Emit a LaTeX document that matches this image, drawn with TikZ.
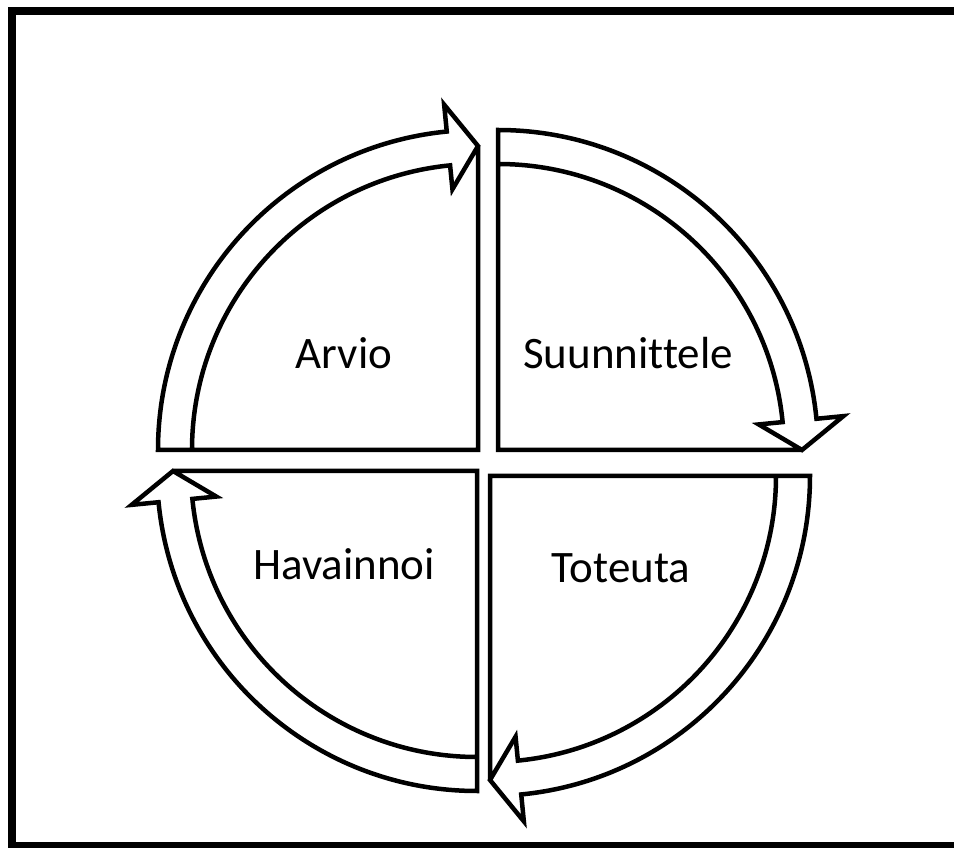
\documentclass[tikz,border=0pt]{standalone}
\usepackage{fontspec}
\setmainfont{Carlito}[Ligatures=NoCommon]
\begin{document}
\begin{tikzpicture}[x=1pt,y=1pt,
  quad/.style={line width=4.5pt},
  lbl/.style={anchor=base,font=\fontsize{45}{54}\selectfont}]
\useasboundingbox (0,0) rectangle (954,847);
\clip (0,0) rectangle (954,847);
\draw[line width=8pt] (960,836) -- (12,836) -- (12,1) -- (960,1);

% Arvio: arrow up to the top
\begin{scope}[shift={(478,397)}]
\draw[quad] (180:286) arc[start angle=180,end angle=95.6,radius=286] -- (95.6:262) -- (90:304)
  -- (95.6:347) -- (95.6:320) arc[start angle=95.6,end angle=180,radius=320] -- (0,0) -- (90:304);
\end{scope}
\node[lbl] (arvio) at (344,478) {Arvio};

% Suunnittele: arrow down to the right
\begin{scope}[shift={(498,397)}]
\draw[quad] (90:286) arc[start angle=90,end angle=5.6,radius=286] -- (5.6:262) -- (0:304)
  -- (5.6:347) -- (5.6:320) arc[start angle=5.6,end angle=90,radius=320] -- (0,0) -- (0:304);
\end{scope}
\node[lbl] (suunnittele) at (628,478) {Suunnittele};

% Toteuta: arrow round to the bottom
\begin{scope}[shift={(490,371)}]
\draw[quad] (0:286) arc[start angle=0,end angle=-84.4,radius=286] -- (-84.4:262) -- (-90:304)
  -- (-84.4:347) -- (-84.4:320) arc[start angle=-84.4,end angle=0,radius=320] -- (0,0) -- (-90:304);
\end{scope}
\node[lbl] (toteuta) at (621,264) {Toteuta};

% Havainnoi: arrow up to the left
\begin{scope}[shift={(477,376)}]
\draw[quad] (-90:286) arc[start angle=-90,end angle=-174.4,radius=286] -- (-174.4:262) -- (-180:304)
  -- (-174.4:347) -- (-174.4:320) arc[start angle=-174.4,end angle=-90,radius=320] -- (0,0) -- (-180:304);
\end{scope}
\node[lbl] (havainnoi) at (344,267) {Havainnoi};
\end{tikzpicture}
\end{document}
